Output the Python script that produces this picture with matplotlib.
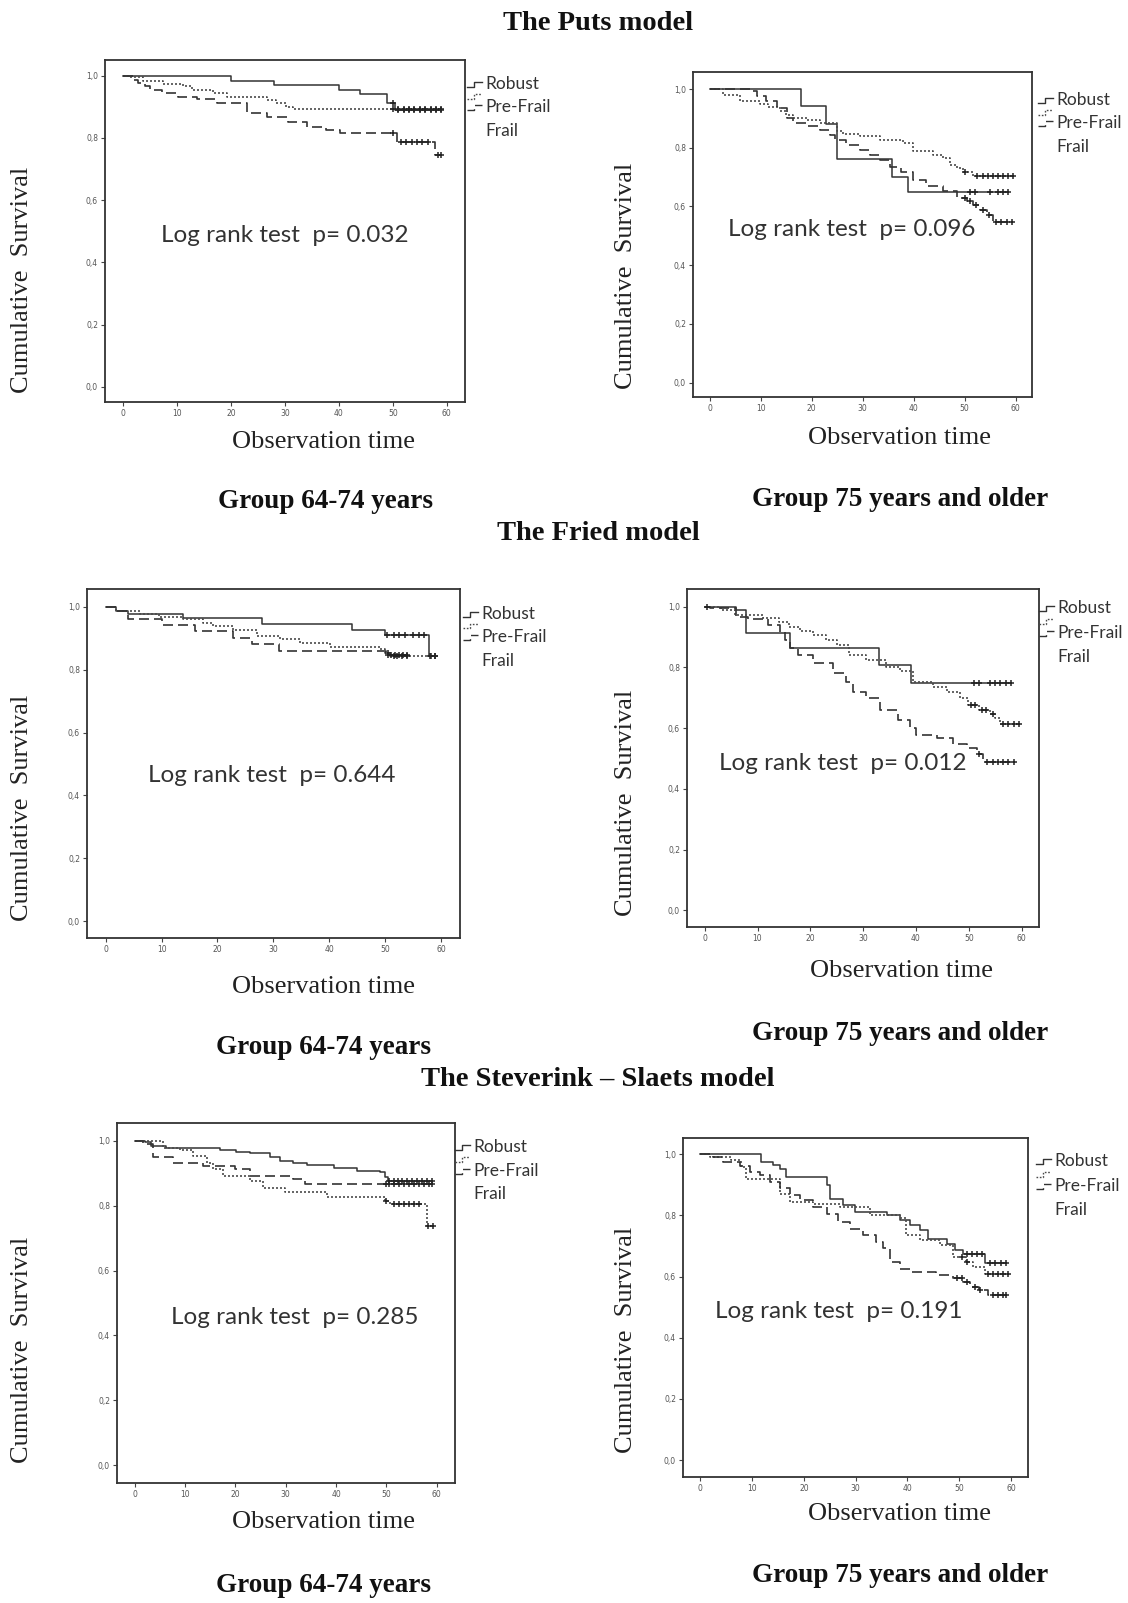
import matplotlib
matplotlib.use("Agg")
import matplotlib.pyplot as plt
from matplotlib.lines import Line2D
from matplotlib.ticker import FuncFormatter, FixedLocator

# ---------------- DATA ----------------
groups = ["Robust", "Pre-Frail", "Frail"]
models = ["The Puts model", "The Fried model", "The Steverink \u2013 Slaets model"]
age_groups = ["Group 64-74 years", "Group 75 years and older"]
p_values = ["0.032", "0.096", "0.644", "0.012", "0.285", "0.191"]
x_ticks = [0, 10, 20, 30, 40, 50, 60]
y_ticks = [0.0, 0.2, 0.4, 0.6, 0.8, 1.0]

# Puts model, 64-74
puts_y_robust_t = [20, 28, 40, 44, 49, 50.5]
puts_y_robust_s = [0.984, 0.970, 0.954, 0.940, 0.912, 0.889]
puts_y_robust_c = [50, 51, 52, 53, 54, 55, 56, 57, 58, 59]
puts_y_pre_t = [1.2, 3.7, 7.4, 11, 12.8, 16.7, 19.2, 26.6, 28.4, 30.2, 31.5]
puts_y_pre_s = [0.995, 0.984, 0.973, 0.965, 0.954, 0.943, 0.932, 0.922, 0.911, 0.900, 0.893]
puts_y_pre_c = [50, 51, 52, 53, 54, 55, 56, 57, 58, 59]
puts_y_frail_t = [1.9, 2.8, 4, 5, 7.1, 10.2, 13.6, 17.3, 22.9, 26.6, 30.6, 34, 37.7, 40.2, 50.7, 57.8]
puts_y_frail_s = [0.986, 0.977, 0.965, 0.952, 0.943, 0.932, 0.924, 0.911, 0.879, 0.868, 0.852, 0.836, 0.825, 0.817, 0.788, 0.745]
puts_y_frail_c = [50, 51.5, 52.5, 53.5, 54.5, 55.5, 56.5, 58.3, 59]

# Puts model, 75+
puts_o_robust_t = [17.9, 22.9, 24.9, 35.8, 38.9]
puts_o_robust_s = [0.941, 0.881, 0.763, 0.702, 0.648]
puts_o_robust_c = [51, 52, 55, 56.5, 57.5, 58.5]
puts_o_pre_t = [2.6, 5.9, 9.8, 11.5, 13.7, 15, 16.4, 19, 21.6, 24.9, 26.2, 29.5, 33.4, 38, 39.9, 43.8, 45.8, 47.1, 48.4, 49.7, 51.7]
puts_o_pre_s = [0.978, 0.958, 0.950, 0.940, 0.924, 0.912, 0.901, 0.895, 0.884, 0.856, 0.848, 0.839, 0.827, 0.816, 0.788, 0.776, 0.765, 0.742, 0.730, 0.717, 0.705]
puts_o_pre_c = [50, 52.5, 53.5, 54.5, 55.5, 56.5, 57.5, 58.5, 59.5]
puts_o_frail_t = [7.9, 9.2, 11.1, 13.1, 15.1, 16.4, 19, 21.6, 23.6, 24.6, 26.8, 29.5, 31.4, 33.4, 35.3, 37.6, 39.9, 42.5, 45.8, 48.4, 50.4, 51.7, 53, 54.3, 55.6]
puts_o_frail_s = [0.992, 0.975, 0.958, 0.935, 0.901, 0.884, 0.873, 0.861, 0.844, 0.827, 0.810, 0.793, 0.776, 0.759, 0.736, 0.719, 0.691, 0.668, 0.651, 0.628, 0.617, 0.606, 0.589, 0.572, 0.546]
puts_o_frail_c = [50, 51, 52.3, 53.5, 54.8, 56.2, 57.2, 58.2, 59.2]

# Fried model, 64-74
fried_y_robust_t = [1.9, 4, 13.9, 28, 44, 50, 57.9]
fried_y_robust_s = [0.986, 0.978, 0.965, 0.947, 0.928, 0.912, 0.844]
fried_y_robust_c = [50.3, 51.5, 52.5, 53.5, 55, 56, 57, 58.2, 59]
fried_y_pre_t = [1.9, 6.1, 9.6, 13.9, 17.4, 19.2, 22.8, 27, 31.2, 34.7, 40.1, 49.1, 50, 50.9]
fried_y_pre_s = [0.986, 0.976, 0.967, 0.963, 0.949, 0.939, 0.925, 0.907, 0.897, 0.886, 0.872, 0.865, 0.854, 0.844]
fried_y_pre_c = [50.5, 51.5, 52.2, 53, 54, 58, 59]
fried_y_frail_t = [1.9, 4, 10, 16, 22.8, 26.1, 31, 50.2]
fried_y_frail_s = [0.986, 0.960, 0.941, 0.923, 0.902, 0.881, 0.860, 0.846]
fried_y_frail_c = [50.5, 51, 51.8, 52.5, 53.2, 54]

# Fried model, 75+
fried_o_robust_t = [5.9, 7.9, 16.1, 33, 39]
fried_o_robust_s = [0.990, 0.914, 0.863, 0.808, 0.749]
fried_o_robust_c = [51, 52, 54, 55, 56, 57, 58]
fried_o_pre_t = [3, 5.7, 11, 14, 16, 18, 20.5, 23, 25, 27.3, 30.6, 34.4, 37, 39.5, 43.3, 45.8, 48.3, 49.9, 52, 54, 55, 55.9]
fried_o_pre_s = [0.990, 0.973, 0.962, 0.950, 0.934, 0.920, 0.907, 0.890, 0.874, 0.841, 0.824, 0.802, 0.788, 0.753, 0.736, 0.720, 0.698, 0.676, 0.659, 0.648, 0.632, 0.612]
fried_o_pre_c = [50.5, 51.2, 52.5, 53.3, 54.5, 56.5, 57.5, 58.5, 59.5]
fried_o_frail_t = [1, 6, 8.2, 12, 14.2, 15.2, 16.1, 17.7, 20.5, 24.3, 26.8, 28.1, 30.6, 33.2, 36.6, 38.8, 40.1, 43.9, 47, 49.6, 51.5, 52.7]
fried_o_frail_s = [0.995, 0.967, 0.960, 0.940, 0.918, 0.890, 0.863, 0.841, 0.813, 0.780, 0.753, 0.720, 0.698, 0.659, 0.626, 0.599, 0.577, 0.566, 0.549, 0.533, 0.516, 0.489]
fried_o_frail_c = [0.5, 52, 53.5, 54.5, 55.5, 56.5, 57.5, 58.5]

# Steverink-Slaets model, 64-74
stev_y_robust_t = [2, 3.3, 6.3, 16.9, 20.2, 22.9, 26.9, 28.8, 31.5, 34.2, 39.5, 44.1, 48.7, 49.7, 50.2]
stev_y_robust_s = [0.995, 0.983, 0.979, 0.972, 0.966, 0.961, 0.949, 0.938, 0.931, 0.925, 0.915, 0.908, 0.903, 0.887, 0.877]
stev_y_robust_c = [50.5, 51.5, 52.3, 53, 54, 55, 56, 57, 58, 59]
stev_y_pre_t = [5.6, 9, 11.6, 14.3, 15.6, 17.6, 22.9, 25.5, 29.8, 38.1, 49.7, 50.7, 58]
stev_y_pre_s = [0.979, 0.972, 0.954, 0.933, 0.913, 0.892, 0.877, 0.856, 0.841, 0.826, 0.815, 0.805, 0.738]
stev_y_pre_c = [50, 51.5, 52.5, 53.5, 54.5, 55.5, 56.5, 58.3, 59.2]
stev_y_frail_t = [1.7, 3.6, 7.6, 13.6, 19.9, 22.9, 31.5, 33.8]
stev_y_frail_s = [0.990, 0.949, 0.933, 0.923, 0.913, 0.892, 0.882, 0.867]
stev_y_frail_c = [50, 50.5, 51.5, 52.5, 53.5, 54.5, 55.5, 56.5, 57.5, 58.5, 59]

# Steverink-Slaets model, 75+
stev_o_robust_t = [11.8, 14, 15.3, 16.6, 24.4, 25, 27.6, 29.8, 36, 38.5, 40.5, 42.4, 44, 47.6, 49.2, 50.8, 55]
stev_o_robust_s = [0.975, 0.964, 0.953, 0.926, 0.899, 0.855, 0.833, 0.812, 0.800, 0.784, 0.768, 0.752, 0.724, 0.708, 0.686, 0.675, 0.643]
stev_o_robust_c = [51.5, 52.5, 53.5, 54.5, 56, 57, 58, 59]
stev_o_pre_t = [1.8, 6, 7.9, 8.9, 15.3, 17.3, 21.8, 26.9, 32.7, 38.5, 39.8, 42.4, 46.3, 48.8, 51.4, 52.7, 55]
stev_o_pre_s = [0.990, 0.980, 0.959, 0.920, 0.871, 0.844, 0.838, 0.828, 0.800, 0.790, 0.735, 0.719, 0.703, 0.664, 0.648, 0.632, 0.610]
stev_o_pre_c = [50.5, 51.5, 55.5, 56.5, 57.5, 58.5, 59.5]
stev_o_frail_t = [2.5, 4.4, 7.6, 9.5, 11.5, 13.4, 15.3, 17.3, 19.2, 21.8, 24.4, 26.6, 28.9, 31.4, 34, 35.3, 36.6, 38.5, 40.5, 45.6, 48.8, 50.8, 52, 53.9, 55.6]
stev_o_frail_s = [0.990, 0.975, 0.960, 0.942, 0.931, 0.910, 0.888, 0.866, 0.850, 0.828, 0.806, 0.779, 0.757, 0.735, 0.713, 0.692, 0.648, 0.626, 0.615, 0.605, 0.594, 0.583, 0.566, 0.556, 0.539]
stev_o_frail_c = [49.5, 50.5, 51.5, 53, 54, 56.5, 57.5, 58.5, 59]

panels_data = [
    [(puts_y_robust_t, puts_y_robust_s, puts_y_robust_c), (puts_y_pre_t, puts_y_pre_s, puts_y_pre_c), (puts_y_frail_t, puts_y_frail_s, puts_y_frail_c)],
    [(puts_o_robust_t, puts_o_robust_s, puts_o_robust_c), (puts_o_pre_t, puts_o_pre_s, puts_o_pre_c), (puts_o_frail_t, puts_o_frail_s, puts_o_frail_c)],
    [(fried_y_robust_t, fried_y_robust_s, fried_y_robust_c), (fried_y_pre_t, fried_y_pre_s, fried_y_pre_c), (fried_y_frail_t, fried_y_frail_s, fried_y_frail_c)],
    [(fried_o_robust_t, fried_o_robust_s, fried_o_robust_c), (fried_o_pre_t, fried_o_pre_s, fried_o_pre_c), (fried_o_frail_t, fried_o_frail_s, fried_o_frail_c)],
    [(stev_y_robust_t, stev_y_robust_s, stev_y_robust_c), (stev_y_pre_t, stev_y_pre_s, stev_y_pre_c), (stev_y_frail_t, stev_y_frail_s, stev_y_frail_c)],
    [(stev_o_robust_t, stev_o_robust_s, stev_o_robust_c), (stev_o_pre_t, stev_o_pre_s, stev_o_pre_c), (stev_o_frail_t, stev_o_frail_s, stev_o_frail_c)],
]

# ---------------- LAYOUT ----------------
W, H = 1128, 1603
fig = plt.figure(figsize=(W / 100, H / 100), dpi=100)
fig.patch.set_facecolor("white")

# axes boxes in pixels: left, top, right, bottom
boxes = [(105, 60, 465, 402), (693, 72, 1032, 397),
         (87, 589, 460, 938), (687, 589, 1039, 927),
         (117, 1123, 455, 1483), (683, 1138, 1028, 1477)]
xlims = [(-3.40, 63.4), (-3.28, 63.2), (-3.35, 63.4), (-3.35, 63.3), (-3.5, 63.6), (-3.36, 63.3)]
ylims = [(-0.049, 1.050), (-0.049, 1.058), (-0.054, 1.057), (-0.055, 1.058), (-0.055, 1.055), (-0.055, 1.053)]
logrank_pos = [(285, 235), (852, 229), (272, 776), (843, 764), (295, 1318), (839, 1312)]
legend_pos = [(485, 84, 107, 131), (1056, 100, 123, 147), (481, 614, 637, 661),
              (1057, 608, 633, 657), (473, 1147, 1171, 1194), (1054, 1161, 1186, 1210)]
ylabel_pos = [(22, 280), (626, 276), (22, 808), (626, 803), (22, 1350), (626, 1340)]
xlabel_pos = [(323, 442), (900, 438), (323, 987), (902, 971), (323, 1522), (900, 1514)]
group_pos = [(325, 501), (900, 500), (323, 1048), (900, 1033), (323, 1585), (900, 1575)]
model_pos = [(598, 23), (598, 534), (598, 1079)]

styles = [dict(linestyle="-", linewidth=1.1, color="#333333"),
          dict(linestyle=(0, (1.2, 1.2)), linewidth=1.2, color="#4a4a4a"),
          dict(linestyle=(0, (6, 3)), linewidth=1.2, color="#333333")]

serif = ["Liberation Serif", "DejaVu Serif"]
sans = ["Lato", "DejaVu Sans"]


def fx(x):
    return x / W


def fy(y):
    return 1 - y / H


def km_step(t, s, c):
    end = max(c + t) if (c or t) else 60
    xs = [0] + list(t) + [end]
    ys = [1.0] + list(s) + [s[-1] if s else 1.0]
    return xs, ys


def surv_at(t, s, x):
    v = 1.0
    for ti, si in zip(t, s):
        if ti <= x:
            v = si
    return v


for i, (box, data) in enumerate(zip(boxes, panels_data)):
    l, t_, r, b = box
    ax = fig.add_axes([fx(l), fy(b), (r - l) / W, (b - t_) / H])
    ax.set_xlim(*xlims[i])
    ax.set_ylim(*ylims[i])
    for sp in ax.spines.values():
        sp.set_color("#333333")
        sp.set_linewidth(1.3)
    ax.xaxis.set_major_locator(FixedLocator(x_ticks))
    ax.yaxis.set_major_locator(FixedLocator(y_ticks))
    ax.yaxis.set_major_formatter(FuncFormatter(lambda v, p: f"{v:.1f}".replace(".", ",")))
    ax.tick_params(direction="out", length=3, width=0.8, color="#444444",
                   labelsize=5.5, labelcolor="#555555", pad=2)

    for (tt, ss, cc), st in zip(data, styles):
        xs, ys = km_step(tt, ss, cc)
        ax.step(xs, ys, where="post", **st)
        cy = [surv_at(tt, ss, x) for x in cc]
        ax.plot(cc, cy, linestyle="none", marker="+", markersize=5,
                markeredgewidth=1.1, color="#222222")

    lx, ly = logrank_pos[i]
    fig.text(fx(lx), fy(ly), f"Log rank test  p= {p_values[i]}", family=sans,
             fontsize=17.5, color="#333333", ha="center", va="center")

    # legend
    tx, y1, y2, y3 = legend_pos[i]
    for lab, yy in zip(groups, (y1, y2, y3)):
        fig.text(fx(tx), fy(yy), lab, family=sans, fontsize=12.5,
                 color="#333333", ha="left", va="center")
    gy = [y1, (y1 + y2) / 2, y2]
    for st, yy in zip(styles, gy):
        gx = [tx - 18, tx - 11, tx - 11, tx - 3]
        gyy = [yy + 3, yy + 3, yy - 2, yy - 2]
        fig.add_artist(Line2D([fx(v) for v in gx], [fy(v) for v in gyy],
                              transform=fig.transFigure, color=st["color"],
                              linewidth=1.0, linestyle=st["linestyle"]))

    # axis labels
    yx, yy = ylabel_pos[i]
    fig.text(fx(yx), fy(yy), "Cumulative  Survival", family=serif, fontsize=19,
             rotation=90, ha="center", va="center", color="#222222")
    xx, xy = xlabel_pos[i]
    fig.text(fx(xx), fy(xy), "Observation time", family=serif, fontsize=19,
             ha="center", va="center", color="#222222")
    gx_, gy_ = group_pos[i]
    fig.text(fx(gx_), fy(gy_), age_groups[i % 2], family=serif, fontsize=19.5,
             fontweight="bold", ha="center", va="center", color="#111111")

for m, (mx, my) in zip(models, model_pos):
    fig.text(fx(mx), fy(my), m, family=serif, fontsize=20.5, fontweight="bold",
             ha="center", va="center", color="#111111")

fig.savefig("out.png", dpi=100, facecolor="white")
